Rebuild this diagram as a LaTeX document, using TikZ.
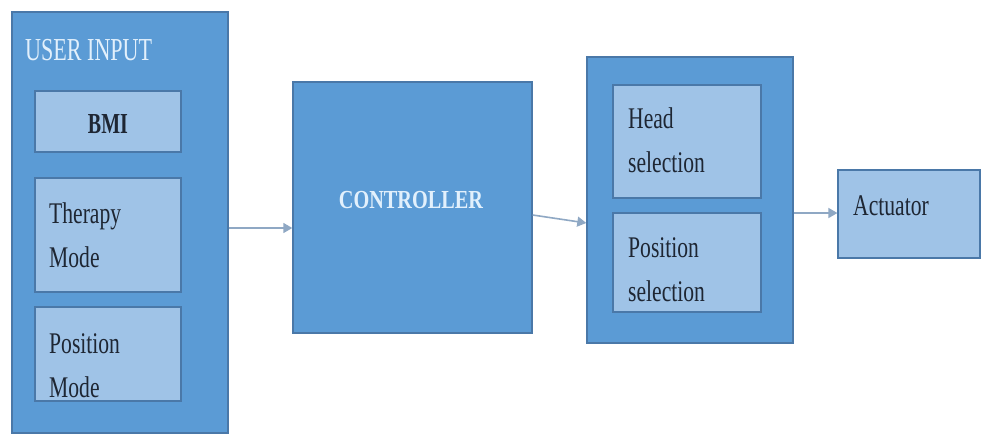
\documentclass[tikz,border=0pt]{standalone}
\usepackage{fontspec}
\setmainfont{Liberation Serif}
\usetikzlibrary{fit,arrows.meta}
\definecolor{outerblue}{HTML}{5B9BD5}
\definecolor{innerblue}{HTML}{9FC3E7}
\definecolor{edgeblue}{HTML}{4A78A8}
\definecolor{inkdark}{HTML}{1E2633}
\definecolor{inklight}{HTML}{E2F0FC}
\definecolor{arrowgray}{HTML}{8FA8C4}
% condensed multi-line label, baseline at its first line
\newcommand\boxtext[2][0.72]{\scalebox{#1}[1]{\begin{tabular}[t]{@{}l@{}}#2\end{tabular}}}
\tikzset{
  outerbox/.style={draw=edgeblue, line width=1.4pt, fill=outerblue, inner sep=0pt},
  innerbox/.style={draw=edgeblue, line width=1.2pt, fill=innerblue, inner sep=0pt},
  txt/.style={inner sep=0pt, anchor=base west, text=inkdark,
              font=\fontsize{30}{44}\selectfont},
  flow/.style={draw=arrowgray, line width=1.6pt,
               -{Triangle[length=9pt,width=10pt]}}
}
\begin{document}
\begin{tikzpicture}[x=1pt,y=-1pt]
  \useasboundingbox[fill=white] (0,0) rectangle (984,437);

  % user input group
  \node[outerbox, fit={(12,12) (228,433)}] (user) {};
  \node[innerbox, fit={(35,91) (181,152)}] (bmi) {};
  \node[innerbox, fit={(35,178) (181,292)}] (therapy) {};
  \node[innerbox, fit={(35,307) (181,401)}] (posmode) {};
  \node[txt, text=inklight, font=\fontsize{32}{44}\selectfont] (userlbl) at (25,60) {\boxtext[0.69]{USER INPUT}};
  \node[txt, anchor=base, font=\fontsize{29}{44}\selectfont\bfseries] (bmilbl) at (108,133) {\boxtext[0.69]{BMI}};
  \node[txt] (therapylbl) at (49,223) {\boxtext{Therapy\\Mode}};
  \node[txt] (posmodelbl) at (49,353) {\boxtext{Position\\Mode}};

  % controller
  \node[outerbox, fit={(293,82) (532,333)}] (ctrl) {};
  \node[txt, anchor=base, text=inklight, font=\fontsize{26}{44}\selectfont\bfseries] (ctrllbl) at (411,208) {\boxtext[0.78]{CONTROLLER}};

  % selection group
  \node[outerbox, fit={(587,57) (793,343)}] (sel) {};
  \node[innerbox, fit={(613,85) (761,198)}] (head) {};
  \node[innerbox, fit={(613,213) (761,312)}] (possel) {};
  \node[txt] (headlbl) at (628,128) {\boxtext{Head\\selection}};
  \node[txt] (possellbl) at (628,257) {\boxtext{Position\\selection}};

  % actuator
  \node[innerbox, fit={(838,170) (980,258)}] (act) {};
  \node[txt] (actlbl) at (853,215) {\boxtext{Actuator}};

  % connectors
  \coordinate (y1) at (0,228);
  \coordinate (y2a) at (0,215);
  \coordinate (y2b) at (0,223);
  \coordinate (y3) at (0,213);
  \draw[flow] (user.east |- y1) -- (ctrl.west |- y1);
  \draw[flow] (ctrl.east |- y2a) -- (sel.west |- y2b);
  \draw[flow] (sel.east |- y3) -- (act.west |- y3);
\end{tikzpicture}
\end{document}
